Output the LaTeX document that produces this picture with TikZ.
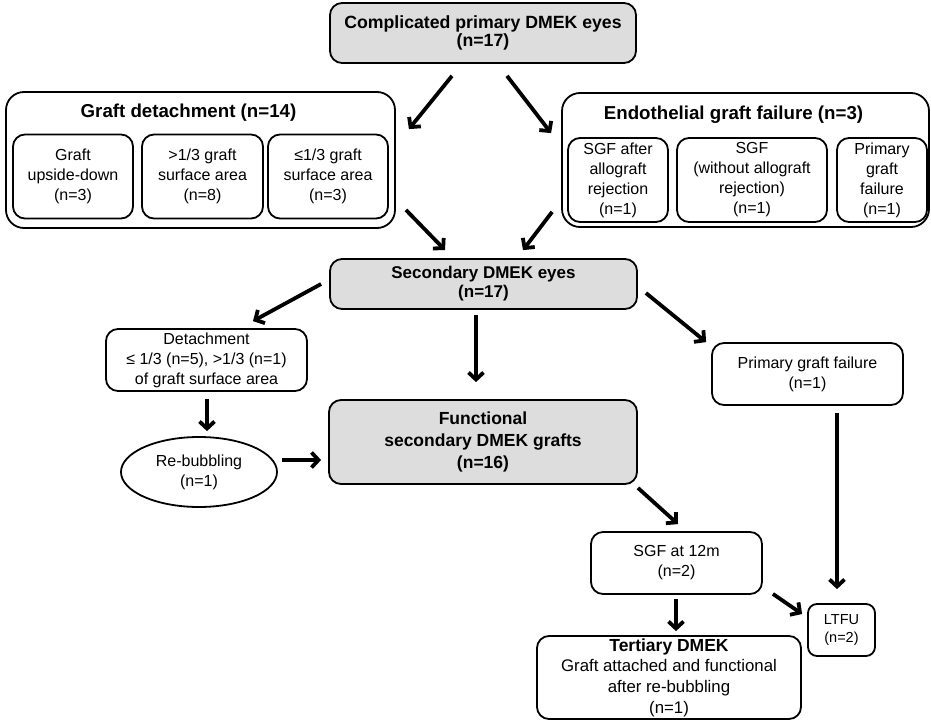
\documentclass[tikz,border=0pt]{standalone}
\usepackage{fontspec}
\setmainfont{Liberation Sans}
\usetikzlibrary{arrows.meta,shapes.geometric}

\begin{document}
\begin{tikzpicture}[x=1pt,y=-1pt,
  box/.style={draw, line width=1.8pt, rounded corners=12pt, align=center, inner sep=2pt, font=\fontsize{16}{20}\selectfont},
  gbox/.style={box, fill=gray!27},
  arr/.style={line width=3.8pt, -{Straight Barb[length=7pt,width=15pt]}}]
\useasboundingbox (0,0) rectangle (931,722);
% first row
\node[gbox, minimum width=306pt, minimum height=60pt, font=\bfseries\fontsize{17.7}{18.5}\selectfont] (top) at (483,33) {Complicated primary DMEK eyes\\(n=17)};
\node[box, rounded corners=18pt, minimum width=389pt, minimum height=136pt] (gd) at (200.5,160) {};
\node[font=\bfseries\fontsize{18.7}{22}\selectfont] (gdt) at (188.5,113) {Graft detachment (n=14)};
\node[box, minimum width=120pt, minimum height=84pt] (gd1) at (73,176.5) {Graft\\upside-down\\(n=3)};
\node[box, minimum width=121pt, minimum height=84pt] (gd2) at (202.5,176.5) {>1/3 graft\\surface area\\(n=8)};
\node[box, minimum width=120pt, minimum height=84pt] (gd3) at (328,176.5) {≤1/3 graft\\surface area\\(n=3)};
\node[box, rounded corners=18pt, minimum width=367pt, minimum height=134pt] (egf) at (745.5,160) {};
\node[font=\bfseries\fontsize{18.7}{22}\selectfont] (egft) at (733.5,115) {Endothelial graft failure (n=3)};
\node[box, minimum width=100pt, minimum height=84pt] (egf1) at (618,180) {SGF after\\allograft\\rejection\\(n=1)};
\node[box, minimum width=150pt, minimum height=84pt] (egf2) at (752,180) {SGF\\(without allograft\\rejection)\\(n=1)};
\node[box, minimum width=90pt, minimum height=84pt] (egf3) at (882,180) {Primary\\graft\\failure\\(n=1)};
% secondary DMEK
\node[gbox, minimum width=307pt, minimum height=50pt, font=\bfseries\fontsize{17}{19}\selectfont] (sec) at (483.5,284) {Secondary DMEK eyes\\(n=17)};
\node[box, minimum width=201pt, minimum height=62pt] (det) at (206.5,360) {Detachment\\≤ 1/3 (n=5), >1/3 (n=1)\\of graft surface area};
\node[box, ellipse, sharp corners, minimum width=156pt, minimum height=70pt] (reb) at (199,472) {Re-bubbling\\(n=1)};
\node[gbox, minimum width=308pt, minimum height=84pt, font=\bfseries\fontsize{17.5}{21.7}\selectfont] (fun) at (483,442) {Functional\\secondary DMEK grafts\\(n=16)};
\node[box, minimum width=191pt, minimum height=62pt] (pgf) at (807.5,374) {Primary graft failure\\(n=1)};
\node[box, minimum width=171pt, minimum height=62pt] (sgf) at (676.5,563) {SGF at 12m\\(n=2)};
\node[box, rounded corners=9pt, minimum width=67pt, minimum height=52pt, font=\fontsize{14.5}{18}\selectfont] (ltfu) at (841.5,630) {LTFU\\(n=2)};
\node[box, minimum width=264pt, minimum height=83pt, font=\fontsize{16.8}{20.7}\selectfont] (ter) at (669,677.5) {{\bfseries\fontsize{17.5}{20.7}\selectfont Tertiary DMEK}\\Graft attached and functional\\after re-bubbling\\(n=1)};
% arrows
\draw[arr] ([shift={(-31,12)}]top.south) -- ([shift={(13,38)}]gd.north east);
\draw[arr] ([shift={(24,12)}]top.south) -- ([shift={(-10,41)}]egf.north west);
\draw[arr] ([shift={(10,-19)}]gd.south east) -- ([shift={(-38.5,-8)}]sec.north);
\draw[arr] ([shift={(-9,-16)}]egf.south west) -- ([shift={(39.5,-8)}]sec.north);
\draw[arr] ([shift={(-8,0)}]sec.west) -- ([shift={(46.5,-7)}]det.north);
\draw[arr] ([shift={(8,9)}]sec.east) -- ([shift={(-5,0)}]pgf.north west);
\draw[arr] ([shift={(-7.5,5)}]sec.south) -- ([shift={(-7,-17)}]fun.north);
\draw[arr] ([shift={(0.5,7)}]det.south) -- ([shift={(8,-5)}]reb.north);
\draw[arr] ([shift={(4,-12)}]reb.east) -- ([shift={(-7,18)}]fun.west);
\draw[arr] ([shift={(0,3)}]fun.south east) -- ([shift={(1.5,-7)}]sgf.north);
\draw[arr] ([shift={(29.5,7)}]pgf.south) -- ([shift={(-4.5,-14)}]ltfu.north);
\draw[arr] ([shift={(-0.5,4)}]sgf.south) -- ([shift={(7,-4)}]ter.north);
\draw[arr] ([shift={(10,-1)}]sgf.south east) -- ([shift={(-5,-16)}]ltfu.west);
\end{tikzpicture}
\end{document}
